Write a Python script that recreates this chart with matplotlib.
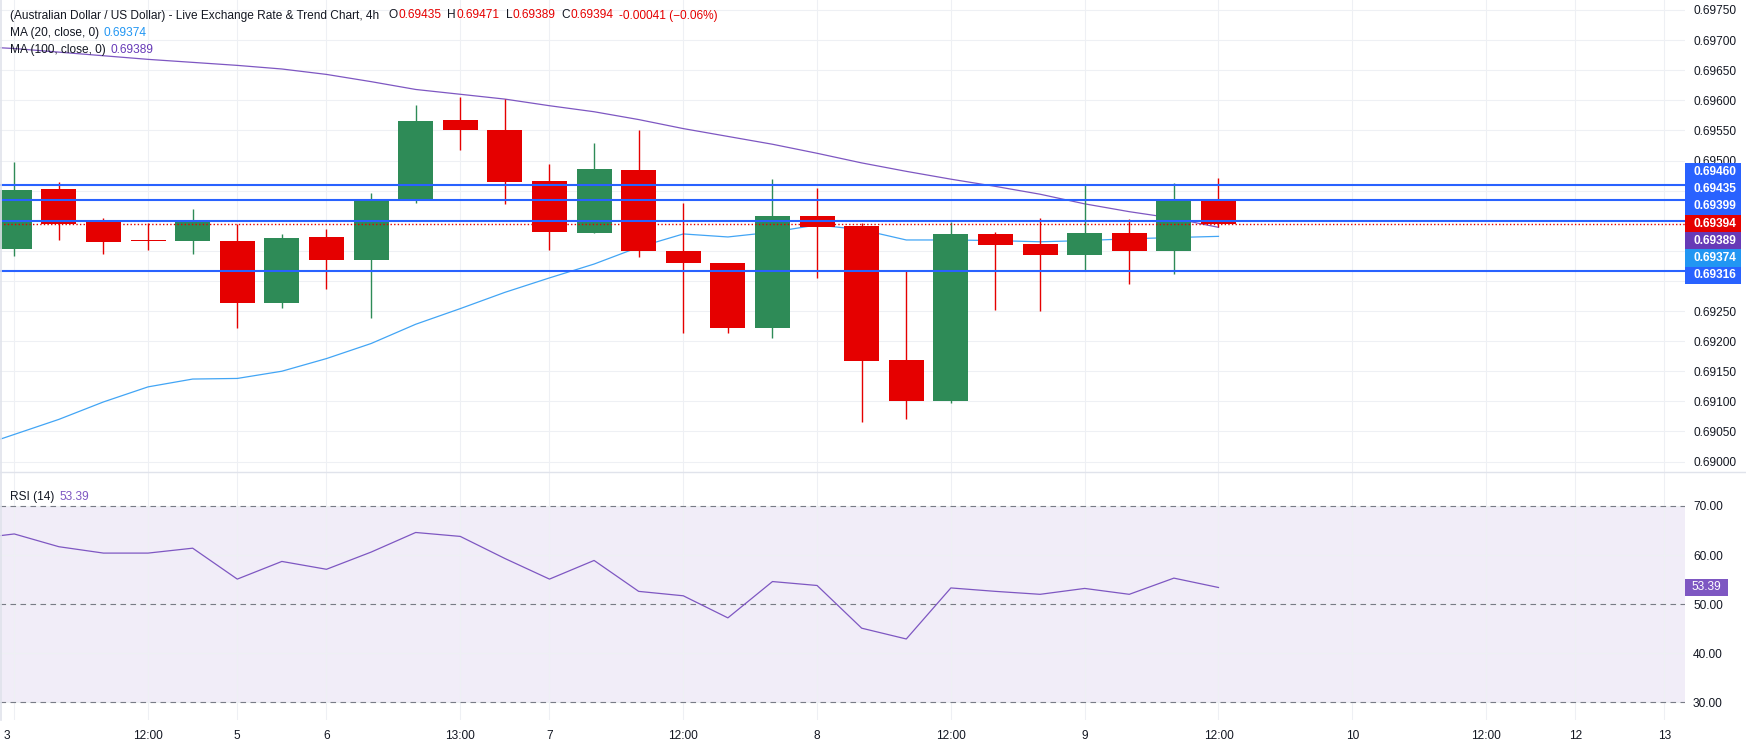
import matplotlib.pyplot as plt
from matplotlib.patches import Rectangle
from matplotlib.lines import Line2D
from matplotlib.transforms import ScaledTranslation

plt.rcParams['font.family'] = ['Liberation Sans', 'DejaVu Sans']

# --- data (4h candles, AUD/USD) ---
candle_idx = list(range(28))
opens = [0.69353, 0.69453, 0.69398, 0.69367, 0.69367, 0.69366, 0.69264, 0.69373, 0.69335, 0.69433,
         0.69567, 0.69551, 0.69466, 0.69380, 0.69484, 0.69350, 0.69329, 0.69222, 0.69408, 0.69391,
         0.69168, 0.69101, 0.69378, 0.69361, 0.69343, 0.69380, 0.69349, 0.69435]
highs = [0.69498, 0.69464, 0.69405, 0.69396, 0.69419, 0.69394, 0.69378, 0.69386, 0.69446, 0.69592,
         0.69606, 0.69602, 0.69494, 0.69529, 0.69551, 0.69430, 0.69330, 0.69469, 0.69454, 0.69396,
         0.69318, 0.69398, 0.69381, 0.69405, 0.69461, 0.69403, 0.69462, 0.69471]
lows = [0.69342, 0.69368, 0.69345, 0.69351, 0.69344, 0.69221, 0.69255, 0.69287, 0.69239, 0.69430,
        0.69517, 0.69427, 0.69352, 0.69379, 0.69339, 0.69214, 0.69214, 0.69206, 0.69305, 0.69066,
        0.69070, 0.69098, 0.69252, 0.69250, 0.69316, 0.69295, 0.69312, 0.69389]
closes = [0.69451, 0.69395, 0.69365, 0.69366, 0.69398, 0.69264, 0.69371, 0.69335, 0.69435, 0.69566,
          0.69550, 0.69465, 0.69382, 0.69486, 0.69349, 0.69329, 0.69222, 0.69408, 0.69390, 0.69167,
          0.69101, 0.69378, 0.69360, 0.69343, 0.69380, 0.69349, 0.69436, 0.69394]

# indicator series start one bar before the first visible candle
ind_idx = list(range(-1, 28))
ma20 = [0.69020, 0.69045, 0.69070, 0.69099, 0.69124, 0.69137, 0.69138, 0.69150, 0.69171, 0.69196,
        0.69228, 0.69254, 0.69281, 0.69305, 0.69328, 0.69356, 0.69378, 0.69373, 0.69381, 0.69393,
        0.69385, 0.69368, 0.69368, 0.69367, 0.69365, 0.69367, 0.69370, 0.69372, 0.69374]
ma100 = [0.69690, 0.69686, 0.69680, 0.69674, 0.69668, 0.69663, 0.69658, 0.69652, 0.69643, 0.69631,
         0.69618, 0.69610, 0.69602, 0.69591, 0.69581, 0.69568, 0.69553, 0.69540, 0.69527, 0.69512,
         0.69496, 0.69482, 0.69469, 0.69457, 0.69444, 0.69428, 0.69415, 0.69404, 0.69389]
rsi = [63.2, 64.3, 61.7, 60.4, 60.4, 61.4, 55.1, 58.7, 57.1, 60.6,
       64.6, 63.8, 59.3, 55.1, 58.9, 52.6, 51.7, 47.2, 54.6, 53.8,
       45.1, 42.9, 53.3, 52.6, 52.0, 53.2, 52.0, 55.3, 53.39]

levels = [0.69460, 0.69435, 0.69399, 0.69316]
last_close = 0.69394

price_ticks = [0.69000, 0.69050, 0.69100, 0.69150, 0.69200, 0.69250, 0.69300, 0.69350,
               0.69400, 0.69450, 0.69500, 0.69550, 0.69600, 0.69650, 0.69700, 0.69750]
rsi_ticks = [30, 40, 50, 60, 70]
date_pos = [0, 3, 5, 7, 10, 12, 15, 18, 21, 24, 27, 30, 33, 35, 37]
date_lab = ['3', '12:00', '5', '6', '13:00', '7', '12:00', '8', '12:00', '9', '12:00', '10',
            '12:00', '12', '13']

# --- styling ---
UP = '#2E8B57'
DOWN = '#E50000'
LEVEL = '#2962FF'
MA20_C = '#42A5F5'
MA100_C = '#7E57C2'
GRID = '#EEF0F4'
TXT = '#131722'
FS = 8.6

W, H = 1746, 748
fig = plt.figure(figsize=(W / 100, H / 100), dpi=100)
fig.patch.set_facecolor('white')


def fx(px):
    return px / W


def fy(py):
    return 1 - py / H


PLOT_R = 1685
ax = fig.add_axes([0, fy(472), fx(PLOT_R), 472 / H])
ax_rsi = fig.add_axes([0, fy(720), fx(PLOT_R), (720 - 473) / H], sharex=ax)

ax.set_xlim(-0.32, 37.46)
ax.set_ylim(0.689826, 0.697666)
ax_rsi.set_ylim(26.39, 76.72)

for a in (ax, ax_rsi):
    for s in a.spines.values():
        s.set_visible(False)
    a.set_facecolor('white')
    a.yaxis.tick_right()
    a.tick_params(length=0, labelsize=FS, labelcolor=TXT)
    a.tick_params(axis='y', pad=5.8)
    a.set_axisbelow(True)

ax.set_xticks(date_pos)
ax.tick_params(axis='x', labelbottom=False)
ax.set_yticks(price_ticks)
ax.grid(True, color=GRID, lw=0.8)

ax_rsi.set_yticks(rsi_ticks)
ax_rsi.set_yticklabels([f'{v:.2f}' for v in rsi_ticks])
ax_rsi.set_xticks(date_pos)
ax_rsi.set_xticklabels(date_lab)
ax_rsi.tick_params(axis='x', pad=7)
ax_rsi.grid(True, color=GRID, lw=0.8)
first = ax_rsi.get_xticklabels()[0]
first.set_transform(first.get_transform() + ScaledTranslation(-0.07, 0, fig.dpi_scale_trans))

# --- candles ---
colors = [UP if c >= o else DOWN for o, c in zip(opens, closes)]
bottoms = [min(o, c) for o, c in zip(opens, closes)]
heights = [max(abs(c - o), 0.00002) for o, c in zip(opens, closes)]
ax.plot(ind_idx, ma20, color=MA20_C, lw=0.9, zorder=2)
ax.plot(ind_idx, ma100, color=MA100_C, lw=0.9, zorder=2)
ax.vlines(candle_idx, lows, highs, colors=colors, lw=1.0, zorder=3)
ax.bar(candle_idx, heights, bottom=bottoms, width=0.785, color=colors, zorder=4)

for lv in levels:
    ax.axhline(lv, color=LEVEL, lw=1.5, zorder=5)
ax.axhline(last_close, color=DOWN, lw=1.0, ls=(0, (1, 1.6)), zorder=5)

# --- RSI pane ---
ax_rsi.axhspan(30, 70, color=(126 / 255, 87 / 255, 194 / 255, 0.1), lw=0, zorder=0)
for v in (70, 50, 30):
    ax_rsi.axhline(v, color='#787B86', lw=0.8, ls=(0, (5, 4)), zorder=2)
ax_rsi.plot(ind_idx, rsi, color='#7E57C2', lw=0.9, zorder=3)

# pane separator and left border
fig.add_artist(Line2D([0, 1], [fy(472), fy(472)], color='#E0E3EB', lw=1))
fig.add_artist(Line2D([fx(0.8), fx(0.8)], [fy(720), 1], color='#E0E3EB', lw=1.2))

# --- price labels on the right axis, stacked like the terminal does ---
tags = [(0.69460, LEVEL), (0.69435, LEVEL), (0.69399, LEVEL), (0.69394, DOWN),
        (0.69389, '#673AB7'), (0.69374, '#2196F3'), (0.69316, LEVEL)]
ys = [H - ax.transData.transform((0, p))[1] for p, _ in tags]
mid = sum(ys) / len(ys)
step = 17.2
stack_top = mid - len(tags) / 2 * step
stack_bot = mid + len(tags) / 2 * step
for k, (p, col) in enumerate(tags):
    yc = mid + (k - (len(tags) - 1) / 2) * step
    fig.add_artist(Rectangle((fx(PLOT_R), fy(yc + step / 2)), fx(56), step / H,
                             facecolor=col, edgecolor='none', zorder=10))
    fig.text(fx(1693), fy(yc), f'{p:.5f}', color='white', fontsize=FS, fontweight='bold',
             va='center', ha='left', zorder=11)

# axis labels hidden behind the stacked tags are left blank
tick_txt = []
for p in price_ticks:
    yp = H - ax.transData.transform((0, p))[1]
    hidden = stack_top - 2 < yp < stack_bot + 4
    tick_txt.append('' if hidden else f'{p:.5f}')
ax.set_yticklabels(tick_txt)

y_rsi = H - ax_rsi.transData.transform((0, rsi[-1]))[1]
fig.add_artist(Rectangle((fx(PLOT_R), fy(y_rsi + 8.5)), fx(43), 17 / H,
                         facecolor='#7E57C2', edgecolor='none', zorder=10))
fig.text(fx(1691), fy(y_rsi), f'{rsi[-1]:.2f}', color='white', fontsize=FS,
         va='center', ha='left', zorder=11)

# --- legend header ---
renderer = fig.canvas.get_renderer()


def seq(y_px, pieces, x0=9.7):
    x = x0
    for txt, col, gap in pieces:
        x += gap
        t = fig.text(fx(x), fy(y_px), txt, color=col, fontsize=FS, va='center', ha='left')
        x = x + t.get_window_extent(renderer).width


seq(15.5, [('(Australian Dollar / US Dollar) - Live Exchange Rate & Trend Chart, 4h', TXT, 0),
           ('O', TXT, 10), ('0.69435', DOWN, 0.5), ('H', TXT, 6), ('0.69471', DOWN, 0.5),
           ('L', TXT, 6), ('0.69389', DOWN, 0.5), ('C', TXT, 6), ('0.69394', DOWN, 0.5),
           ('-0.00041 (\u22120.06%)', DOWN, 5)])
seq(33, [('MA (20, close, 0)', TXT, 0), ('0.69374', '#2196F3', 5)])
seq(50, [('MA (100, close, 0)', TXT, 0), ('0.69389', '#673AB7', 5)])
seq(497, [('RSI (14)', TXT, 0), ('53.39', '#7E57C2', 5)])

fig.savefig('out.png', dpi=100)
